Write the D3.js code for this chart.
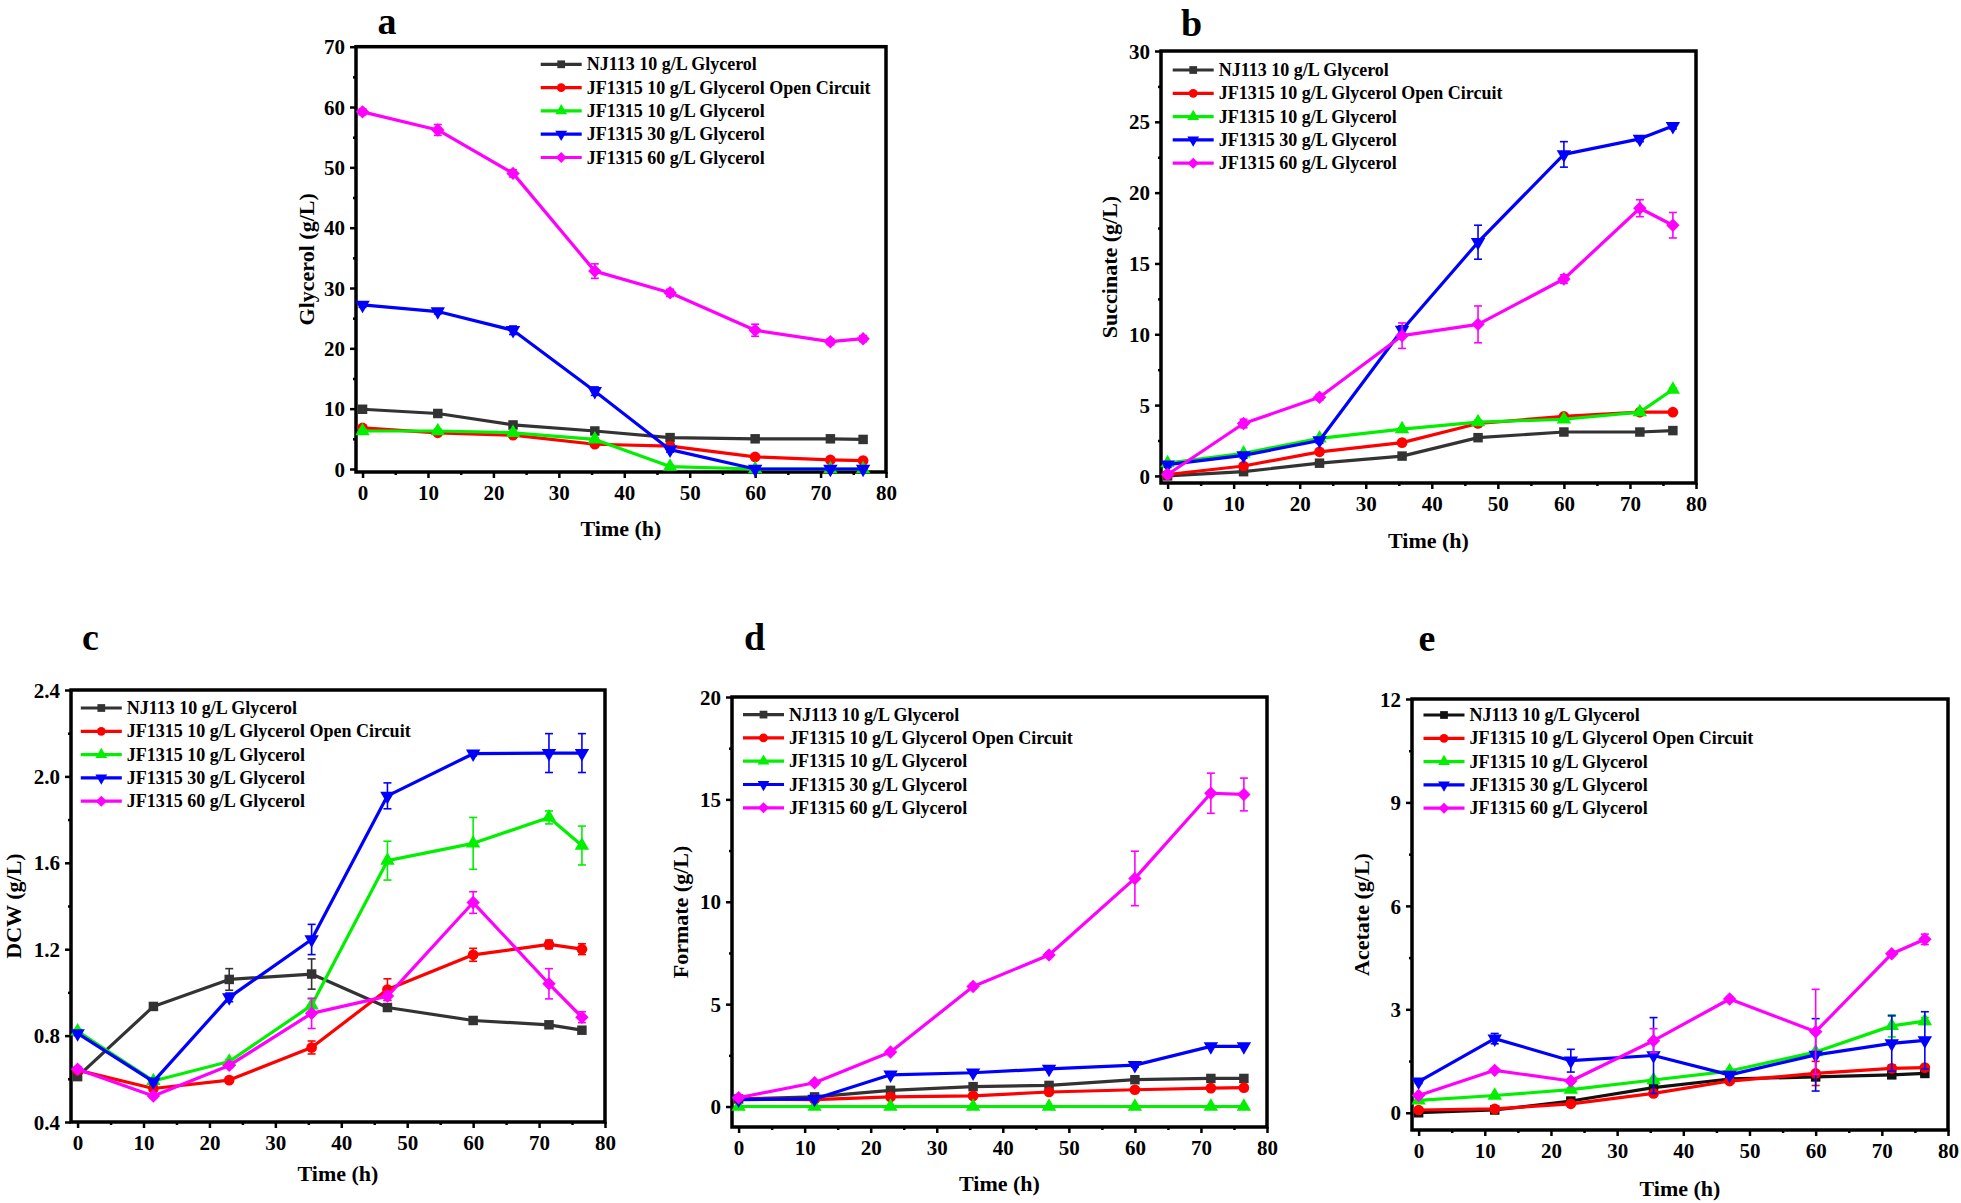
<!DOCTYPE html>
<html>
<head>
<meta charset="utf-8">
<title>Fermentation time courses</title>
<script src="https://d3js.org/d3.v7.min.js"></script>
<style>
  body { margin: 0; background: #fff; }
  svg { display: block; }
  text { font-family: "Liberation Serif", "Times New Roman", serif; font-weight: bold; fill: #000; }
</style>
</head>
<body>
<svg id="chart" width="1961" height="1203"></svg>
<script>
// sampling times (h)
const time = [0, 11.5, 23, 35.5, 47, 60, 71.5, 76.5];

const seriesNames = [
  "NJ113 10 g/L Glycerol",
  "JF1315 10 g/L Glycerol Open Circuit",
  "JF1315 10 g/L Glycerol",
  "JF1315 30 g/L Glycerol",
  "JF1315 60 g/L Glycerol"
];
const seriesColors = ["#333333", "#ff0000", "#00f000", "#0000ff", "#ff00ff"];
const seriesSymbols = ["square", "circle", "triangle", "triangleDown", "diamond"];

// a - glycerol (g/L), one row per series
const glycerol = [
  [9.9, 9.2, 7.3, 6.3, 5.2, 5.0, 5.0, 4.9],
  [6.8, 6.0, 5.6, 4.1, 3.8, 2.0, 1.5, 1.4],
  [6.3, 6.3, 6.0, 4.9, 0.4, 0.0, 0.0, 0.0],
  [27.2, 26.1, 23.0, 12.9, 3.2, 0.0, 0.0, 0.0],
  [59.2, 56.2, 49.0, 32.8, 29.2, 23.0, 21.1, 21.6]
];
const glycerolErr = [
  [0.2, 0.2, 0.2, 0.2, 0.2, 0.2, 0.2, 0.2],
  [0.3, 0.3, 0.3, 0.3, 0.3, 0.2, 0.2, 0.2],
  [0.3, 0.3, 0.3, 0.3, 0.2, 0.1, 0.1, 0.1],
  [0.4, 0.4, 0.7, 0.7, 0.4, 0.2, 0.2, 0.2],
  [0.5, 0.9, 0.6, 1.2, 0.6, 1.0, 0.5, 0.5]
];

// b - succinate (g/L)
const succinate = [
  [0.0, 0.3, 0.9, 1.4, 2.7, 3.1, 3.1, 3.2],
  [0.1, 0.7, 1.7, 2.35, 3.7, 4.2, 4.5, 4.5],
  [0.9, 1.6, 2.65, 3.3, 3.8, 4.0, 4.5, 6.1],
  [0.8, 1.45, 2.5, 10.3, 16.5, 22.7, 23.8, 24.7],
  [0.1, 3.7, 5.55, 9.9, 10.7, 13.9, 18.9, 17.7]
];
const succinateErr = [
  [0.1, 0.1, 0.1, 0.1, 0.1, 0.1, 0.1, 0.1],
  [0.1, 0.1, 0.1, 0.1, 0.1, 0.1, 0.1, 0.1],
  [0.1, 0.1, 0.1, 0.1, 0.1, 0.1, 0.1, 0.1],
  [0.2, 0.2, 0.2, 0.3, 1.2, 0.9, 0.2, 0.2],
  [0.1, 0.3, 0.2, 0.9, 1.3, 0.3, 0.6, 0.9]
];

// c - DCW (g/L)
const dcw = [
  [0.61, 0.935, 1.06, 1.085, 0.93, 0.87, 0.85, 0.825],
  [0.64, 0.555, 0.594, 0.745, 1.013, 1.174, 1.222, 1.2],
  [0.82, 0.59, 0.68, 0.94, 1.61, 1.69, 1.81, 1.68],
  [0.81, 0.587, 0.977, 1.245, 1.91, 2.105, 2.108, 2.108],
  [0.644, 0.52, 0.662, 0.903, 0.983, 1.416, 1.04, 0.885]
];
const dcwErr = [
  [0.01, 0.01, 0.05, 0.07, 0.01, 0.01, 0.01, 0.01],
  [0.01, 0.01, 0.01, 0.03, 0.05, 0.03, 0.02, 0.025],
  [0.01, 0.01, 0.01, 0.03, 0.09, 0.12, 0.03, 0.09],
  [0.01, 0.01, 0.02, 0.07, 0.06, 0.01, 0.09, 0.09],
  [0.01, 0.01, 0.01, 0.07, 0.02, 0.05, 0.07, 0.025]
];

// d - formate (g/L)
const formate = [
  [0.37, 0.47, 0.79, 0.97, 1.03, 1.31, 1.37, 1.37],
  [0.37, 0.34, 0.47, 0.52, 0.71, 0.82, 0.9, 0.92],
  [0.0, 0.0, 0.0, 0.0, 0.0, 0.0, 0.0, 0.0],
  [0.34, 0.37, 1.55, 1.65, 1.84, 2.02, 2.94, 2.94],
  [0.43, 1.16, 2.66, 5.86, 7.4, 11.14, 15.3, 15.24]
];
const formateErr = [
  [0.05, 0.05, 0.05, 0.05, 0.05, 0.05, 0.05, 0.05],
  [0.05, 0.05, 0.05, 0.05, 0.05, 0.05, 0.05, 0.05],
  [0.02, 0.02, 0.02, 0.02, 0.02, 0.02, 0.02, 0.02],
  [0.05, 0.05, 0.05, 0.05, 0.05, 0.1, 0.05, 0.05],
  [0.1, 0.1, 0.1, 0.1, 0.1, 1.33, 0.98, 0.8]
];

// e - acetate (g/L)
const acetate = [
  [0.0, 0.08, 0.34, 0.73, 0.98, 1.04, 1.1, 1.14],
  [0.08, 0.11, 0.26, 0.56, 0.92, 1.14, 1.29, 1.31],
  [0.36, 0.5, 0.67, 0.95, 1.21, 1.76, 2.52, 2.66],
  [0.9, 2.15, 1.51, 1.66, 1.1, 1.68, 2.01, 2.1],
  [0.5, 1.23, 0.92, 2.09, 3.3, 2.35, 4.61, 5.03]
];
const acetateErr = [
  [0.02, 0.02, 0.05, 0.05, 0.05, 0.1, 0.1, 0.05],
  [0.02, 0.02, 0.05, 0.05, 0.05, 0.35, 0.1, 0.05],
  [0.02, 0.02, 0.05, 0.05, 0.05, 0.05, 0.32, 0.1],
  [0.05, 0.15, 0.33, 1.1, 0.05, 1.05, 0.8, 0.83],
  [0.05, 0.05, 0.05, 0.35, 0.05, 1.23, 0.05, 0.15]
];

const panels = [
  { letter: "a", ylabel: "Glycerol (g/L)", values: glycerol, errs: glycerolErr,
    yDomain: [-0.5, 70], yTicks: d3.range(0, 71, 10), yMinor: d3.range(5, 70, 10), fmt: d3.format("d"),
    box: [356, 46.7, 886, 472], letterPos: [387, 34], yl: 306, xl: 56, leg: [540.7, 64.3] },
  { letter: "b", ylabel: "Succinate (g/L)", values: succinate, errs: succinateErr,
    yDomain: [-0.5, 30], yTicks: d3.range(0, 31, 5), yMinor: d3.range(2.5, 30, 5), fmt: d3.format("d"),
    box: [1161, 51, 1696, 483], letterPos: [1191.5, 36], yl: 1109, xl: 57, leg: [1172.7, 70] },
  { letter: "c", ylabel: "DCW (g/L)", values: dcw, errs: dcwErr,
    yDomain: [0.4, 2.4], yTicks: [0.4, 0.8, 1.2, 1.6, 2.0, 2.4], yMinor: [0.6, 1.0, 1.4, 1.8, 2.2], fmt: d3.format(".1f"),
    box: [71, 690, 605, 1122], letterPos: [90.5, 650], yl: 13, xl: 51, leg: [80.8, 708] },
  { letter: "d", ylabel: "Formate (g/L)", values: formate, errs: formateErr,
    yDomain: [-1, 20], yTicks: d3.range(0, 21, 5), yMinor: d3.range(2.5, 20, 5), fmt: d3.format("d"),
    box: [732, 697, 1267, 1127], letterPos: [754.6, 650], yl: 680, xl: 56, leg: [743, 714.6] },
  { letter: "e", ylabel: "Acetate (g/L)", values: acetate, errs: acetateErr,
    yDomain: [-0.5, 12], yTicks: d3.range(0, 13, 3), yMinor: d3.range(1.5, 12, 3), fmt: d3.format("d"),
    box: [1412, 699, 1948, 1130], letterPos: [1427, 651], yl: 1361, xl: 58, leg: [1423.5, 715], black: "#111111" }
];

const xTicks = d3.range(0, 81, 10);
const xMinor = d3.range(5, 80, 10);
const serifFont = "'Liberation Serif', 'Times New Roman', serif";

const svg = d3.select("#chart");

function symbolPath(kind, size) {
  if (kind === "square") return d3.symbol(d3.symbolSquare, size)();
  if (kind === "circle") return d3.symbol(d3.symbolCircle, size)();
  if (kind === "diamond") return d3.symbol(d3.symbolSquare, size)();
  return d3.symbol(d3.symbolTriangle, size)();
}
function symbolRot(kind) {
  if (kind === "diamond") return 45;
  if (kind === "triangleDown") return 180;
  return 0;
}

panels.forEach(p => {
  const [x0, y0, x1, y1] = p.box;
  const x = d3.scaleLinear().domain([-1, 80]).range([x0, x1]);
  const y = d3.scaleLinear().domain(p.yDomain).range([y1, y0]);
  const g = svg.append("g");
  const colors = seriesColors.slice();
  if (p.black) colors[0] = p.black;

  // ticks, outward on bottom and left
  const xAxis = d3.axisBottom(x).tickValues(xTicks).tickSize(6).tickPadding(6).tickFormat(d3.format("d"));
  const xa = g.append("g").attr("transform", `translate(0,${y1})`).call(xAxis);
  g.append("g").attr("transform", `translate(0,${y1})`)
    .call(d3.axisBottom(x).tickValues(xMinor).tickSize(3).tickFormat(""));
  const yAxis = d3.axisLeft(y).tickValues(p.yTicks).tickSize(6).tickPadding(5).tickFormat(p.fmt);
  const ya = g.append("g").attr("transform", `translate(${x0},0)`).call(yAxis);
  g.append("g").attr("transform", `translate(${x0},0)`)
    .call(d3.axisLeft(y).tickValues(p.yMinor).tickSize(3).tickFormat(""));
  [xa, ya].forEach(a => a.attr("font-family", serifFont).attr("font-size", 21).attr("font-weight", "bold"));
  g.selectAll(".domain").remove();
  g.selectAll(".tick line").attr("stroke", "#000").attr("stroke-width", 2.5);
  g.selectAll(".tick text").attr("fill", "#000")
    .style("font-family", serifFont).style("font-size", "21px").style("font-weight", "bold");
  xa.selectAll(".tick text").attr("dy", "0.75em");
  ya.selectAll(".tick text").attr("dy", "0.34em");

  // frame
  g.append("rect").attr("x", x0).attr("y", y0).attr("width", x1 - x0).attr("height", y1 - y0)
    .attr("fill", "none").attr("stroke", "#000").attr("stroke-width", 3.5);

  // series
  const line = d3.line().x((d, i) => x(time[i])).y(d => y(d));
  p.values.forEach((vals, s) => {
    const c = colors[s];
    const sg = g.append("g");
    // error bars
    vals.forEach((v, i) => {
      const e = p.errs[s][i];
      const xi = x(time[i]);
      sg.append("line").attr("x1", xi).attr("x2", xi).attr("y1", y(v - e)).attr("y2", y(v + e))
        .attr("stroke", c).attr("stroke-width", 1.6);
      [v - e, v + e].forEach(b => {
        sg.append("line").attr("x1", xi - 4).attr("x2", xi + 4).attr("y1", y(b)).attr("y2", y(b))
          .attr("stroke", c).attr("stroke-width", 1.6);
      });
    });
    sg.append("path").datum(vals).attr("d", line).attr("fill", "none")
      .attr("stroke", c).attr("stroke-width", 3.2).attr("stroke-linejoin", "round");
    sg.selectAll(".pt").data(vals).enter().append("path")
      .attr("d", symbolPath(seriesSymbols[s], 90))
      .attr("transform", (d, i) => `translate(${x(time[i])},${y(d)}) rotate(${symbolRot(seriesSymbols[s])})`)
      .attr("fill", c);
  });

  // legend
  const [lx, ly] = p.leg;
  seriesNames.forEach((name, s) => {
    const yy = ly + s * 23.3;
    g.append("line").attr("x1", lx).attr("x2", lx + 41).attr("y1", yy).attr("y2", yy)
      .attr("stroke", colors[s]).attr("stroke-width", 3.2);
    g.append("path").attr("d", symbolPath(seriesSymbols[s], 60))
      .attr("transform", `translate(${lx + 20.5},${yy}) rotate(${symbolRot(seriesSymbols[s])})`)
      .attr("fill", colors[s]);
    g.append("text").attr("x", lx + 46).attr("y", yy).attr("dy", "0.34em")
      .style("font-size", "18px").text(name);
  });

  // panel letter and axis titles
  g.append("text").attr("x", p.letterPos[0]).attr("y", p.letterPos[1]).attr("text-anchor", "middle")
    .style("font-size", "38px").text(p.letter);
  g.append("text").attr("x", (x0 + x1) / 2).attr("y", y1 + p.xl).attr("dy", "0.35em")
    .attr("text-anchor", "middle").style("font-size", "22px").text("Time (h)");
  g.append("text").attr("transform", `translate(${p.yl},${(y0 + y1) / 2}) rotate(-90)`)
    .attr("dy", "0.35em").attr("text-anchor", "middle").style("font-size", "22px").text(p.ylabel);
});
</script>
</body>
</html>
